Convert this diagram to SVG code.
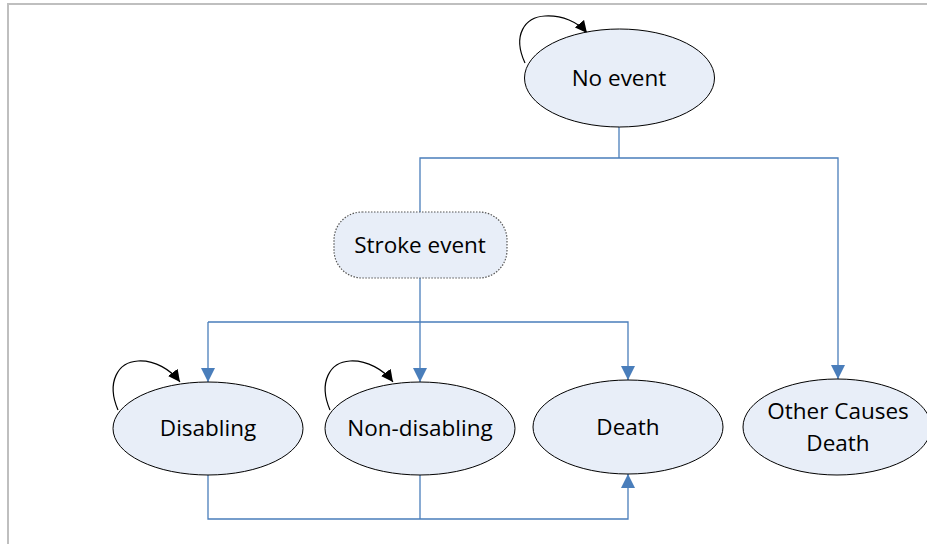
<svg xmlns="http://www.w3.org/2000/svg" width="927" height="544" viewBox="0 0 927 544">
<style>
.n{fill:#e8eef8;stroke:#000;stroke-width:1}
.t{font-family:"Open Sans","Noto Sans",sans-serif;font-size:22.5px;fill:#000;text-anchor:middle}
.c{fill:none;stroke:#4a7ebb;stroke-width:1.3}
.l{fill:none;stroke:#000;stroke-width:1.2}
</style>
<defs>
<marker id="a" markerUnits="userSpaceOnUse" markerWidth="14" markerHeight="14" viewBox="0 0 14 14" refX="14" refY="7" orient="auto">
<path d="M0,0L14,7L0,14z" fill="#4a7ebb"/>
</marker>
<marker id="b" markerUnits="userSpaceOnUse" markerWidth="12" markerHeight="12" viewBox="0 0 12 12" refX="12" refY="6" orient="auto">
<path d="M0,0L12,6L0,12z" fill="#000"/>
</marker>
</defs>
<rect width="927" height="544" fill="#fff"/>
<path d="M8,544V4H927" fill="none" stroke="#bfbfbf" stroke-width="2"/>
<g id="connectors">
<path class="c" d="M619,127V158"/>
<path class="c" d="M420,212V158H838V379" marker-end="url(#a)"/>
<path class="c" d="M420,278V322"/>
<path class="c" d="M208,322H628V380" marker-end="url(#a)"/>
<path class="c" d="M208,322V382" marker-end="url(#a)"/>
<path class="c" d="M420,322V382" marker-end="url(#a)"/>
<path class="c" d="M208,475V519H628V474" marker-end="url(#a)"/>
<path class="c" d="M420,475V519"/>
<path class="l" d="M525,63C512,35 525,17 545,16C562,15 578,22 587,33" marker-end="url(#b)"/>
<path class="l" d="M118,410C106,382 118,362 138,361C155,360 171,370 180,382" marker-end="url(#b)"/>
<path class="l" d="M330,410C318,382 330,362 350,361C367,360 384,370 393,382" marker-end="url(#b)"/>
</g>
<g id="no-event">
<ellipse class="n" cx="619.5" cy="78" rx="95" ry="49"/>
<text class="t" x="619" y="86">No event</text>
</g>
<g id="stroke-event">
<rect x="334" y="212" width="173" height="66" rx="28" fill="#e8eef8" stroke="#555" stroke-width="1.2" stroke-dasharray="1.5,1.5"/>
<text class="t" x="420" y="253">Stroke event</text>
</g>
<g id="disabling">
<ellipse class="n" cx="208" cy="428.5" rx="95" ry="46.5"/>
<text class="t" x="208" y="436">Disabling</text>
</g>
<g id="non-disabling">
<ellipse class="n" cx="420" cy="428.5" rx="95" ry="46.5"/>
<text class="t" x="420" y="436">Non-disabling</text>
</g>
<g id="death">
<ellipse class="n" cx="628" cy="427" rx="95" ry="47"/>
<text class="t" x="628" y="435">Death</text>
</g>
<g id="other-causes-death">
<ellipse class="n" cx="837" cy="427" rx="94" ry="48"/>
<text class="t" x="838" y="419">Other Causes</text>
<text class="t" x="838" y="451">Death</text>
</g>
</svg>
